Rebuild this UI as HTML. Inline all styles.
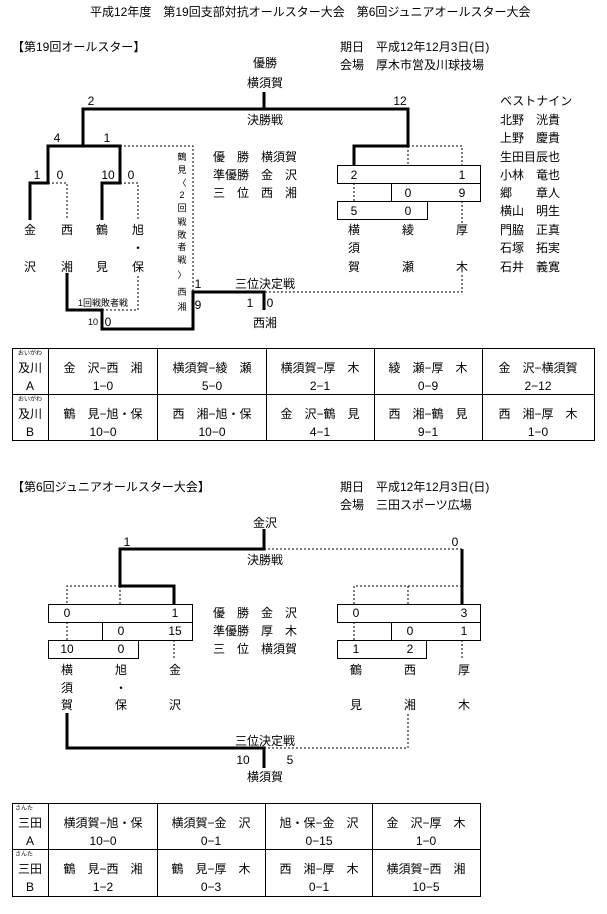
<!DOCTYPE html>
<html><head><meta charset="utf-8"><style>
html,body{margin:0;padding:0;background:#fff;}
svg{display:block;}
text{font-family:"Liberation Sans","Noto Sans CJK JP",sans-serif;font-size:12px;fill:#000;}
.s{font-size:9px;}
.f{font-size:6px;}
</style></head><body>
<svg width="607" height="914" viewBox="0 0 607 914" xmlns="http://www.w3.org/2000/svg">
<g dominant-baseline="central">
<text x="90" y="12">平成12年度　第19回支部対抗オールスター大会　第6回ジュニアオールスター大会</text>
<text x="12" y="47">【第19回オールスター】</text>
<text x="340" y="47">期日　平成12年12月3日(日)</text>
<text x="340" y="65">会場　厚木市営及川球技場</text>
<g text-anchor="middle">
<text x="265" y="63">優勝</text>
<text x="265" y="83">横須賀</text>
<text x="91" y="101">2</text>
<text x="400" y="101">12</text>
<text x="265" y="120">決勝戦</text>
<text x="57" y="138">4</text>
<text x="107" y="138">1</text>
<text x="37" y="175">1</text>
<text x="60" y="175">0</text>
<text x="108" y="175">10</text>
<text x="131" y="175">0</text>
<text x="30" y="230">金</text><text x="30" y="267">沢</text>
<text x="67" y="230">西</text><text x="67" y="267">湘</text>
<text x="102" y="230">鶴</text><text x="102" y="267">見</text>
<text x="138" y="230">旭</text><text x="138" y="248">・</text><text x="138" y="267">保</text>
<text x="354" y="175">2</text><text x="462" y="175">1</text>
<text x="408" y="193">0</text><text x="462" y="193">9</text>
<text x="354" y="211">5</text><text x="408" y="211">0</text>
<text x="354" y="230">横</text><text x="354" y="248">須</text><text x="354" y="267">賀</text>
<text x="408" y="230">綾</text><text x="408" y="267">瀬</text>
<text x="462" y="230">厚</text><text x="462" y="267">木</text>
<text x="182" y="157" class="s">鶴</text><text x="182" y="170" class="s">見</text><text x="182" y="183" class="s">〈</text><text x="182" y="195" class="s">2</text><text x="182" y="208" class="s">回</text><text x="182" y="222" class="s">戦</text><text x="182" y="235" class="s">敗</text><text x="182" y="247" class="s">者</text><text x="182" y="260" class="s">戦</text><text x="182" y="275" class="s">〉</text><text x="182" y="292" class="s">西</text><text x="182" y="307" class="s">湘</text>
<text x="103" y="303" class="s">1回戦敗者戦</text>
<text x="93" y="322" class="s">10</text>
<text x="108" y="322">0</text>
<text x="198" y="284">1</text>
<text x="198" y="305">9</text>
<text x="250" y="303">1</text>
<text x="270" y="303">0</text>
<text x="265" y="323">西湘</text>
<text x="265" y="284">三位決定戦</text>
</g>
<text x="213" y="157">優　勝　横須賀</text>
<text x="213" y="175">準優勝　金　沢</text>
<text x="213" y="193">三　位　西　湘</text>
<text x="500" y="101">ベストナイン</text>
<text x="500" y="120">北野　洸貴</text>
<text x="500" y="138">上野　慶貴</text>
<text x="500" y="157">生田目辰也</text>
<text x="500" y="175">小林　竜也</text>
<text x="500" y="193">郷　　章人</text>
<text x="500" y="211">横山　明生</text>
<text x="500" y="230">門脇　正真</text>
<text x="500" y="248">石塚　拓実</text>
<text x="500" y="267">石井　義寛</text>
</g>
<g fill="none" stroke="#000" stroke-width="3" stroke-linejoin="miter">
<polyline points="264,92 264,109 408,109 408,146 354,146 354,165"/>
<polyline points="264,109 83,109 83,146 48,146 48,183 30,183 30,220"/>
<polyline points="83,146 120,146 120,183 102,183 102,220"/>
<polyline points="67,273 67,310 102,310 102,329 193,329 193,292 264,292 264,310"/>
</g>
<g fill="none" stroke="#000" stroke-width="1" stroke-dasharray="2,2">
<polyline points="83,109 264,109"/>
<polyline points="408,146 462,146 462,165"/>
<line x1="408" y1="146" x2="408" y2="165"/>
<line x1="83" y1="146" x2="120" y2="146"/>
<polyline points="48,183 67,183 67,220"/>
<polyline points="120,183 138,183 138,220"/>
<polyline points="120,146 193,146 193,292"/>
<polyline points="102,310 138,310 138,275"/>
<line x1="354" y1="183" x2="354" y2="201"/>
<polyline points="462,201 462,223"/>
<polyline points="462,275 462,292 264,292"/>
</g>
<g fill="none" stroke="#000" stroke-width="1">
<rect x="337.5" y="165.5" width="143" height="18"/>
<rect x="391.5" y="183.5" width="89" height="18"/>
<rect x="337.5" y="201.5" width="90" height="18"/>
</g>
<!-- table 1 -->
<g fill="none" stroke="#000" stroke-width="1">
<rect x="12.5" y="348.5" width="582" height="92"/>
<line x1="12" y1="394.5" x2="595" y2="394.5"/>
<line x1="48.5" y1="348" x2="48.5" y2="441"/>
<line x1="157.5" y1="348" x2="157.5" y2="441"/>
<line x1="266.5" y1="348" x2="266.5" y2="441"/>
<line x1="374.5" y1="348" x2="374.5" y2="441"/>
<line x1="482.5" y1="348" x2="482.5" y2="441"/>
</g>
<g dominant-baseline="central" text-anchor="middle">
<text x="30" y="354" class="f">おいがわ</text><text x="30" y="368">及川</text><text x="30" y="386">A</text>
<text x="30" y="400" class="f">おいがわ</text><text x="30" y="414">及川</text><text x="30" y="432">B</text>
<text x="103" y="368">金　沢−西　湘</text><text x="103" y="386">1−0</text>
<text x="212" y="368">横須賀−綾　瀬</text><text x="212" y="386">5−0</text>
<text x="320" y="368">横須賀−厚　木</text><text x="320" y="386">2−1</text>
<text x="428" y="368">綾　瀬−厚　木</text><text x="428" y="386">0−9</text>
<text x="538" y="368">金　沢−横須賀</text><text x="538" y="386">2−12</text>
<text x="103" y="414">鶴　見−旭・保</text><text x="103" y="432">10−0</text>
<text x="212" y="414">西　湘−旭・保</text><text x="212" y="432">10−0</text>
<text x="320" y="414">金　沢−鶴　見</text><text x="320" y="432">4−1</text>
<text x="428" y="414">西　湘−鶴　見</text><text x="428" y="432">9−1</text>
<text x="538" y="414">西　湘−厚　木</text><text x="538" y="432">1−0</text>
</g>
<!-- junior -->
<g dominant-baseline="central">
<text x="12" y="487">【第6回ジュニアオールスター大会】</text>
<text x="340" y="487">期日　平成12年12月3日(日)</text>
<text x="340" y="505">会場　三田スポーツ広場</text>
<text x="213" y="613">優　勝　金　沢</text>
<text x="213" y="631">準優勝　厚　木</text>
<text x="213" y="649">三　位　横須賀</text>
<g text-anchor="middle">
<text x="265" y="523">金沢</text>
<text x="127" y="542">1</text>
<text x="455" y="542">0</text>
<text x="265" y="560">決勝戦</text>
<text x="67" y="613">0</text><text x="175" y="613">1</text>
<text x="121" y="631">0</text><text x="175" y="631">15</text>
<text x="67" y="649">10</text><text x="121" y="649">0</text>
<text x="356" y="613">0</text><text x="464" y="613">3</text>
<text x="410" y="631">0</text><text x="464" y="631">1</text>
<text x="356" y="649">1</text><text x="410" y="649">2</text>
<text x="67" y="670">横</text><text x="67" y="688">須</text><text x="67" y="705">賀</text>
<text x="121" y="670">旭</text><text x="121" y="688">・</text><text x="121" y="705">保</text>
<text x="175" y="670">金</text><text x="175" y="705">沢</text>
<text x="356" y="670">鶴</text><text x="356" y="705">見</text>
<text x="410" y="670">西</text><text x="410" y="705">湘</text>
<text x="464" y="670">厚</text><text x="464" y="705">木</text>
<text x="265" y="741">三位決定戦</text>
<text x="243" y="760">10</text>
<text x="290" y="760">5</text>
<text x="265" y="777">横須賀</text>
</g>
</g>
<g fill="none" stroke="#000" stroke-width="3">
<polyline points="264,529 264,549 120,549 120,586 174,586 174,604"/>
<polyline points="462,549 462,604"/>
<polyline points="67,713 67,748 264,748 264,768"/>
</g>
<g fill="none" stroke="#000" stroke-width="1" stroke-dasharray="2,2">
<line x1="264" y1="549" x2="462" y2="549"/>
<polyline points="120,586 67,586 67,604"/>
<line x1="120" y1="586" x2="120" y2="604"/>
<polyline points="462,586 354,586 354,604"/>
<line x1="408" y1="586" x2="408" y2="604"/>
<line x1="67" y1="622" x2="67" y2="640"/>
<line x1="174" y1="640" x2="174" y2="660"/>
<line x1="354" y1="622" x2="354" y2="640"/>
<line x1="462" y1="640" x2="462" y2="660"/>
<polyline points="264,748 408,748 408,713"/>
</g>
<g fill="none" stroke="#000" stroke-width="1">
<rect x="48.5" y="604.5" width="144" height="18"/>
<rect x="102.5" y="622.5" width="90" height="18"/>
<rect x="48.5" y="640.5" width="90" height="18"/>
<rect x="337.5" y="604.5" width="143" height="18"/>
<rect x="391.5" y="622.5" width="89" height="18"/>
<rect x="337.5" y="640.5" width="89" height="18"/>
</g>
<!-- table 2 -->
<g fill="none" stroke="#000" stroke-width="1">
<rect x="12.5" y="803.5" width="468" height="93"/>
<line x1="12" y1="849.5" x2="481" y2="849.5"/>
<line x1="48.5" y1="803" x2="48.5" y2="897"/>
<line x1="157.5" y1="803" x2="157.5" y2="897"/>
<line x1="265.5" y1="803" x2="265.5" y2="897"/>
<line x1="372.5" y1="803" x2="372.5" y2="897"/>
</g>
<g dominant-baseline="central" text-anchor="middle">
<text x="24" y="809" class="f">さんた</text><text x="30" y="823">三田</text><text x="30" y="841">A</text>
<text x="24" y="855" class="f">さんた</text><text x="30" y="869">三田</text><text x="30" y="887">B</text>
<text x="103" y="823">横須賀−旭・保</text><text x="103" y="841">10−0</text>
<text x="211" y="823">横須賀−金　沢</text><text x="211" y="841">0−1</text>
<text x="319" y="823">旭・保−金　沢</text><text x="319" y="841">0−15</text>
<text x="426" y="823">金　沢−厚　木</text><text x="426" y="841">1−0</text>
<text x="103" y="869">鶴　見−西　湘</text><text x="103" y="887">1−2</text>
<text x="211" y="869">鶴　見−厚　木</text><text x="211" y="887">0−3</text>
<text x="319" y="869">西　湘−厚　木</text><text x="319" y="887">0−1</text>
<text x="426" y="869">横須賀−西　湘</text><text x="426" y="887">10−5</text>
</g>
</svg>
</body></html>
